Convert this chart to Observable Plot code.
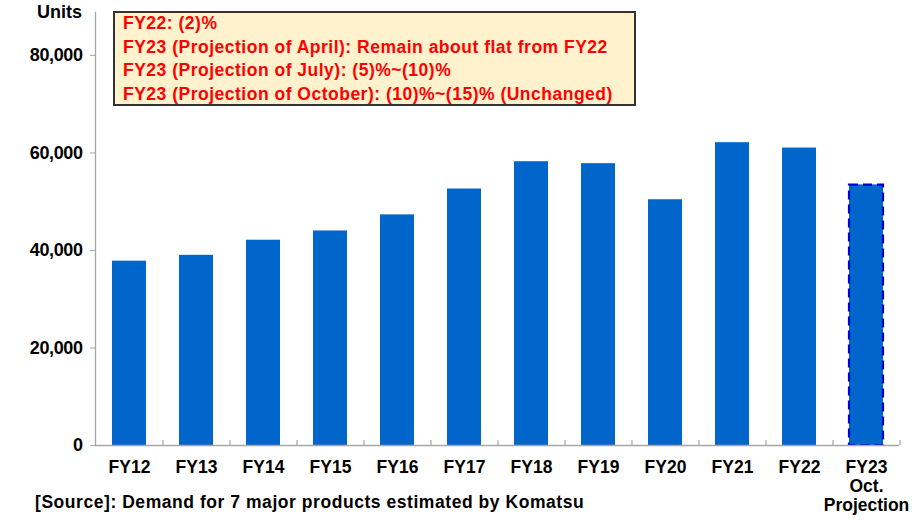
<!DOCTYPE html>
<html>
<head>
<meta charset="utf-8">
<script src="https://cdn.jsdelivr.net/npm/d3@7"></script>
<script src="https://cdn.jsdelivr.net/npm/@observablehq/plot@0.6"></script>
<style>
  html, body { margin: 0; padding: 0; background: #fff; }
  #wrap { position: relative; width: 912px; height: 520px; font-family: "Liberation Sans", Arial, sans-serif; }
  #units { position: absolute; left: 37px; top: 2px; font-size: 18px; font-weight: bold; color: #000; }
  #note { position: absolute; left: 113px; top: 11px; width: 511px; height: 91px; background: #FFF2CC; border: 2px solid #333; padding: 0 0 0 8px; box-sizing: content-box; overflow: hidden; }
  #note div { color: #FF0000; font-size: 17.5px; letter-spacing: 0.5px; font-weight: bold; line-height: 23.5px; white-space: nowrap; }
  #note div:first-child { margin-top: -1px; }
  #caption { position: absolute; left: 35px; top: 492px; font-size: 17.5px; letter-spacing: 0.55px; font-weight: bold; color: #000; white-space: nowrap; }
  g[aria-label="y-axis tick label"] { letter-spacing: -0.4px; }
</style>
</head>
<body>
<div id="wrap">
  <div id="chart"></div>
  <div id="units"></div>
  <div id="note"></div>
  <div id="caption"></div>
</div>
<script>
const categories = ["FY12","FY13","FY14","FY15","FY16","FY17","FY18","FY19","FY20","FY21","FY22","FY23"];
const tickLabels = ["FY12","FY13","FY14","FY15","FY16","FY17","FY18","FY19","FY20","FY21","FY22","FY23\nOct.\nProjection"];
const demand = [37800, 39000, 42100, 44000, 47300, 52600, 58200, 57800, 50400, 62100, 61000, 53400];
const projected = [false, false, false, false, false, false, false, false, false, false, false, true];
const yTicks = [0, 20000, 40000, 60000, 80000];
const unitLabel = "Units";
const noteLines = [
  "FY22: (2)%",
  "FY23 (Projection of April): Remain about flat from FY22",
  "FY23 (Projection of July): (5)%~(10)%",
  "FY23 (Projection of October): (10)%~(15)% (Unchanged)"
];
const sourceText = "[Source]: Demand for 7 major products estimated by Komatsu";

const data = categories.map((c, i) => ({cat: c, value: demand[i], proj: projected[i], label: tickLabels[i]}));
const labelOf = new Map(data.map(d => [d.cat, d.label]));

const W = 912, H = 520, mL = 95, mR = 13, mT = 12, mB = 75;
const step = (W - mL - mR) / categories.length;

const chart = Plot.plot({
  width: W,
  height: H,
  marginLeft: mL,
  marginRight: mR,
  marginTop: mT,
  marginBottom: mB,
  style: {fontFamily: '"Liberation Sans", Arial, sans-serif', background: "#fff", color: "#000"},
  x: {domain: categories, paddingInner: 0.5, paddingOuter: 0.25, label: null},
  y: {domain: [0, 88800], label: null},
  marks: [
    Plot.barY(data, {x: "cat", y: "value", fill: "#0066CC"}),
    Plot.barY(data.filter(d => d.proj), {x: "cat", y: "value", fill: "#0066CC", stroke: "#0000CC", strokeWidth: 2.2, strokeDasharray: "9,5"}),
    Plot.frame({anchor: "left", stroke: "#a6a6a6", strokeWidth: 1.3}),
    Plot.ruleY([0], {stroke: "#a6a6a6", strokeWidth: 1.5}),
    Plot.ruleX(categories, {x: d => d, dx: step / 2, y1: 0, y2: 0, insetTop: -5, stroke: "#a6a6a6", strokeWidth: 1.2}),
    Plot.axisY({ticks: yTicks, tickFormat: d3.format(","), tickSize: 5, tickPadding: 8, stroke: "#a6a6a6", fontSize: 18, fontWeight: "bold", fill: "#000"}),
    Plot.axisX({tickSize: 0, tickPadding: 14, tickFormat: d => labelOf.get(d), fontSize: 17.5, fontWeight: "bold", fill: "#000", lineHeight: 1.08, lineAnchor: "top"})
  ]
});
document.getElementById("chart").appendChild(chart);
document.getElementById("units").textContent = unitLabel;
const note = document.getElementById("note");
noteLines.forEach((t, i) => {
  const el = document.createElement("div");
  el.textContent = t;
  note.appendChild(el);
});
document.getElementById("caption").textContent = sourceText;
</script>
</body>
</html>
